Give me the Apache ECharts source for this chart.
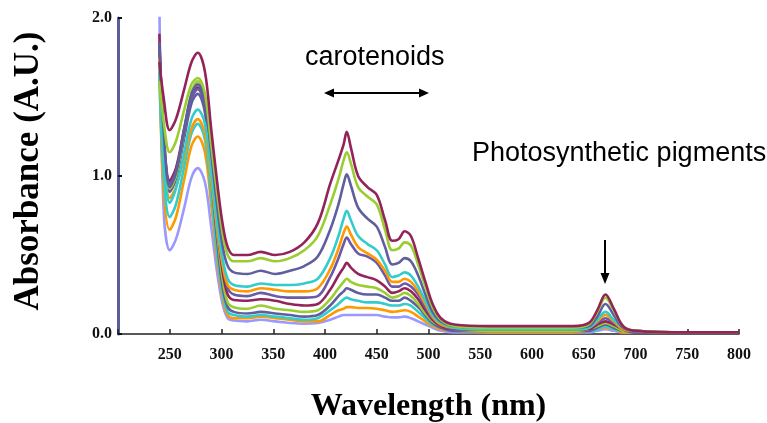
<!DOCTYPE html>
<html><head><meta charset="utf-8">
<script src="https://cdn.jsdelivr.net/npm/echarts@6/dist/echarts.min.js"></script>
<style>html,body{margin:0;padding:0;background:#fff}#c{width:767px;height:423px}</style>
</head><body><div id="c"></div>
<script>
// Wavelength grid (nm)
var wavelengths = [240,244,250,256,264,271,277,284,290,296,301,306,312,325,338,352,366,380,393,405,413,418,421,425,432,441,450,458,465,471,477,483,490,497,504,512,525,560,600,640,655,663,671,679,688,700,750,800];
// Absorbance spectra (A.U.)
var s1  = [1.72,1.50,1.29,1.36,1.55,1.72,1.78,1.66,1.30,0.95,0.70,0.55,0.50,0.50,0.52,0.50,0.52,0.58,0.70,0.95,1.10,1.20,1.28,1.18,1.00,0.93,0.88,0.72,0.59,0.60,0.65,0.62,0.48,0.33,0.19,0.10,0.06,0.05,0.05,0.05,0.07,0.15,0.25,0.16,0.05,0.02,0.01,0.01];
var s2  = [1.60,1.35,1.15,1.22,1.42,1.58,1.62,1.52,1.20,0.88,0.64,0.50,0.46,0.46,0.48,0.46,0.48,0.53,0.62,0.82,0.98,1.10,1.15,1.08,0.93,0.87,0.82,0.66,0.53,0.54,0.58,0.56,0.44,0.30,0.17,0.09,0.05,0.04,0.04,0.04,0.06,0.14,0.23,0.15,0.05,0.02,0.01,0.01];
var s3  = [1.85,1.30,0.93,1.02,1.30,1.52,1.58,1.48,1.15,0.80,0.56,0.43,0.39,0.38,0.40,0.38,0.40,0.43,0.49,0.66,0.82,0.95,1.01,0.94,0.80,0.73,0.68,0.55,0.44,0.45,0.48,0.46,0.37,0.25,0.14,0.08,0.05,0.04,0.04,0.04,0.05,0.11,0.19,0.12,0.04,0.02,0.01,0.01];
var s4  = [1.70,1.15,0.83,0.92,1.15,1.36,1.42,1.33,1.03,0.70,0.48,0.35,0.31,0.30,0.32,0.31,0.31,0.32,0.35,0.48,0.62,0.73,0.78,0.72,0.62,0.57,0.53,0.44,0.36,0.37,0.39,0.37,0.30,0.21,0.12,0.07,0.04,0.03,0.03,0.03,0.04,0.09,0.14,0.09,0.04,0.02,0.01,0.01];
var s5  = [1.75,1.15,0.86,0.93,1.12,1.30,1.36,1.27,0.98,0.66,0.44,0.31,0.28,0.27,0.29,0.28,0.27,0.27,0.29,0.41,0.54,0.64,0.68,0.63,0.55,0.51,0.47,0.40,0.33,0.33,0.35,0.33,0.27,0.19,0.11,0.06,0.04,0.03,0.03,0.03,0.04,0.08,0.12,0.08,0.03,0.02,0.01,0.01];
var s6  = [1.80,1.25,0.95,1.03,1.28,1.49,1.55,1.44,1.10,0.72,0.45,0.29,0.25,0.24,0.26,0.24,0.23,0.23,0.24,0.36,0.48,0.57,0.61,0.57,0.51,0.49,0.45,0.37,0.30,0.30,0.32,0.30,0.25,0.17,0.10,0.06,0.03,0.03,0.03,0.03,0.04,0.07,0.10,0.07,0.03,0.01,0.01,0.01];
var s7  = [1.90,1.28,0.97,1.05,1.30,1.50,1.56,1.45,1.08,0.68,0.40,0.25,0.215,0.21,0.22,0.21,0.19,0.18,0.19,0.28,0.37,0.42,0.45,0.42,0.38,0.36,0.34,0.30,0.26,0.27,0.29,0.27,0.22,0.15,0.09,0.05,0.03,0.03,0.03,0.03,0.03,0.06,0.08,0.06,0.03,0.01,0.01,0.01];
var s8  = [1.80,1.22,0.92,1.00,1.28,1.53,1.60,1.48,1.08,0.64,0.35,0.20,0.17,0.16,0.18,0.16,0.15,0.14,0.15,0.22,0.29,0.33,0.35,0.33,0.31,0.30,0.29,0.26,0.23,0.24,0.26,0.24,0.19,0.13,0.08,0.05,0.03,0.02,0.02,0.02,0.03,0.05,0.07,0.05,0.02,0.01,0.01,0.01];
var s9  = [1.85,1.20,0.90,0.98,1.24,1.46,1.52,1.40,1.00,0.58,0.30,0.17,0.14,0.13,0.14,0.13,0.12,0.11,0.12,0.18,0.24,0.27,0.29,0.28,0.26,0.25,0.25,0.23,0.21,0.21,0.23,0.21,0.17,0.12,0.07,0.04,0.02,0.02,0.02,0.02,0.02,0.04,0.06,0.04,0.02,0.01,0.01,0.01];
var s10 = [1.65,1.02,0.74,0.82,1.06,1.27,1.33,1.23,0.88,0.50,0.26,0.14,0.12,0.11,0.12,0.11,0.10,0.09,0.10,0.15,0.19,0.22,0.23,0.22,0.21,0.20,0.20,0.19,0.18,0.18,0.19,0.18,0.14,0.10,0.06,0.04,0.02,0.02,0.02,0.02,0.02,0.03,0.05,0.03,0.02,0.01,0.01,0.01];
var s11 = [1.70,0.92,0.66,0.74,0.98,1.19,1.25,1.15,0.82,0.46,0.23,0.12,0.10,0.10,0.11,0.10,0.09,0.08,0.08,0.12,0.15,0.16,0.17,0.17,0.165,0.165,0.16,0.15,0.14,0.145,0.15,0.14,0.11,0.08,0.05,0.03,0.02,0.01,0.01,0.01,0.02,0.03,0.04,0.03,0.01,0.01,0.01,0.01];
var s12 = [2.10,0.80,0.53,0.60,0.80,0.99,1.05,0.96,0.68,0.38,0.19,0.10,0.085,0.08,0.09,0.08,0.07,0.065,0.07,0.09,0.11,0.12,0.12,0.12,0.12,0.12,0.12,0.11,0.105,0.105,0.11,0.10,0.08,0.06,0.04,0.02,0.01,0.01,0.01,0.01,0.01,0.02,0.03,0.02,0.01,0.01,0.01,0.01];
var seriesNames = ['S1','S2','S3','S4','S5','S6','S7','S8','S9','S10','S11','S12'];
var yTicks = [0, 1, 2];

var allSeries = [s1,s2,s3,s4,s5,s6,s7,s8,s9,s10,s11,s12];
var colors = ['#93245a','#9acd32','#5f5f9e','#33cccc','#ff9900','#6a5aa8','#93245a','#9acd32','#5f5f9e','#33cccc','#ff9900','#9999ff'];
var serif = '"Liberation Serif", "Times New Roman", serif';
var sans = '"Liberation Sans", Arial, sans-serif';

var series = allSeries.map(function (arr, i) {
  return {
    name: seriesNames[i], type: 'line', showSymbol: false, smooth: 0.35,
    clip: true, z: 2 + (11 - i),
    lineStyle: { color: colors[i], width: 2.6 },
    itemStyle: { color: colors[i] },
    data: wavelengths.map(function (w, k) { return [w, arr[k]]; })
  };
});

var chart = echarts.init(document.getElementById('c'), null, { renderer: 'canvas' });
chart.setOption({
  animation: false,
  backgroundColor: '#fff',
  grid: { left: 118, right: 28, top: 18, bottom: 89, outerBoundsMode: 'none', containLabel: false },
  xAxis: {
    type: 'value', min: 200, max: 800, interval: 50,
    name: 'Wavelength (nm)', nameLocation: 'middle', nameGap: 57,
    nameTextStyle: { fontFamily: serif, fontWeight: 'bold', fontSize: 32, color: '#000' },
    axisLine: { lineStyle: { color: '#222', width: 1.5 } },
    axisTick: { inside: true, length: 5, lineStyle: { color: '#222', width: 1.5 } },
    axisLabel: { margin: 13, fontFamily: serif, fontWeight: 'bold', fontSize: 16, color: '#111',
      formatter: function (v) { return v === 200 ? '' : String(v); } },
    splitLine: { show: false }
  },
  yAxis: {
    type: 'value', min: yTicks[0], max: yTicks[yTicks.length - 1], interval: 1,
    name: 'Absorbance (A.U.)', nameLocation: 'middle', nameGap: 72, nameRotate: 90,
    nameTextStyle: { fontFamily: serif, fontWeight: 'bold', fontSize: 35, color: '#000', padding: [0, 0, 0, 10] },
    axisLine: { show: true, lineStyle: { color: '#5c5c99', width: 3 } },
    axisTick: { show: true, inside: true, length: 4, lineStyle: { color: '#111', width: 2 } },
    axisLabel: { margin: 6, fontFamily: serif, fontWeight: 'bold', fontSize: 16, color: '#111',
      formatter: function (v) { return v.toFixed(1); } },
    splitLine: { show: false }
  },
  series: series,
  graphic: [
    { type: 'text', left: 305, top: 44, style: { text: 'carotenoids', font: '27px ' + sans, fill: '#000' } },
    { type: 'line', shape: { x1: 332, y1: 93, x2: 421, y2: 93 }, style: { stroke: '#000', lineWidth: 2 } },
    { type: 'polygon', shape: { points: [[324, 93], [334, 88.5], [334, 97.5]] }, style: { fill: '#000' } },
    { type: 'polygon', shape: { points: [[429, 93], [419, 88.5], [419, 97.5]] }, style: { fill: '#000' } },
    { type: 'text', left: 472, top: 140, style: { text: 'Photosynthetic pigments', font: '27px ' + sans, fill: '#000' } },
    { type: 'line', shape: { x1: 605, y1: 240, x2: 605, y2: 275 }, style: { stroke: '#000', lineWidth: 2 } },
    { type: 'polygon', shape: { points: [[605, 284], [600.5, 273], [609.5, 273]] }, style: { fill: '#000' } }
  ]
});
</script>
</body></html>
